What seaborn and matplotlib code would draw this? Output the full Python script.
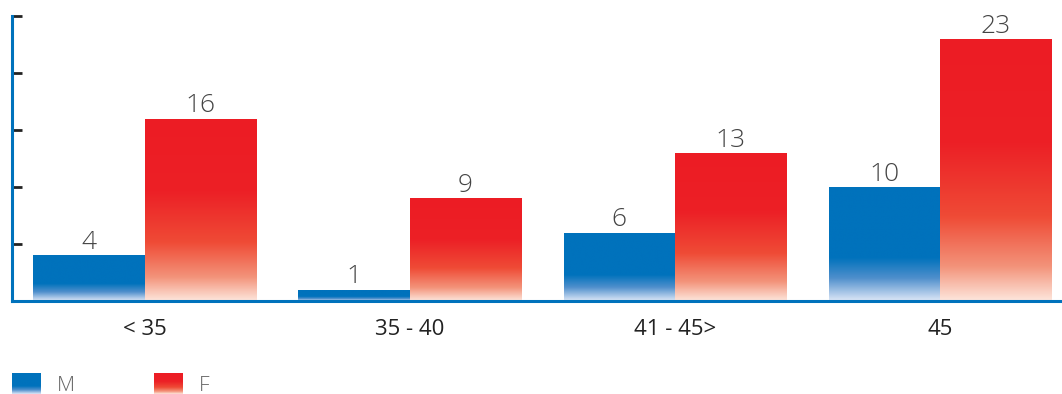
import numpy as np
import pandas as pd
import matplotlib
matplotlib.use("Agg")
import matplotlib.pyplot as plt
from matplotlib.colors import LinearSegmentedColormap
import seaborn as sns

categories = ["< 35", "35 - 40", "41 - 45>", "45"]
male = [4, 1, 6, 10]
female = [16, 9, 13, 23]
series = ["M", "F"]

df = pd.DataFrame({
    "cat": categories * 2,
    "val": male + female,
    "sex": ["M"] * len(categories) + ["F"] * len(categories),
})

sns.set_theme(style="white")
plt.rcParams["font.family"] = ["Open Sans", "DejaVu Sans"]

BLUE = "#0072BC"
RED = "#ED1C24"
blue_cmap = LinearSegmentedColormap.from_list(
    "b", [(0, BLUE), (0.62, BLUE), (0.8, "#4f8fcc"), (1.0, "#dde7f7")])
red_cmap = LinearSegmentedColormap.from_list(
    "r", [(0, RED), (0.4, "#EC2026"), (0.68, "#EF4B36"), (0.87, "#F3937A"), (1.0, "#FDE6DC")])

fig = plt.figure(figsize=(10.62, 3.94), dpi=100)
ax = fig.add_axes([12 / 1062, 1 - 301 / 394, 1 - 12 / 1062, (301 - 16) / 394])

sns.barplot(data=df, x="cat", y="val", hue="sex", order=categories,
            hue_order=series, palette=[BLUE, RED], width=0.84, ax=ax,
            legend=False, saturation=1)

grad = np.linspace(0, 1, 256).reshape(-1, 1)
patches = [p for p in ax.patches if p.get_height() > 0]
for p in patches:
    x0 = p.get_x(); w = p.get_width(); h = p.get_height(); y0 = p.get_y()
    fc = p.get_facecolor()
    is_blue = fc[2] > fc[0]
    cmap = blue_cmap if is_blue else red_cmap
    im = ax.imshow(grad, cmap=cmap, aspect="auto", extent=(x0, x0 + w, y0, y0 + h),
                   origin="upper", zorder=2, interpolation="bilinear")
    im.set_clip_path(p)
    p.set_facecolor("none")
    p.set_edgecolor("none")
    ax.text(x0 + w / 2, y0 + h + 0.55, f"{int(round(h))}", ha="center", va="baseline",
            fontsize=19, fontweight="light", color="#444444", zorder=3)

ax.set_xlim(-0.5, 3.46)
ax.set_ylim(0, 25)
ax.set_yticks([0, 5, 10, 15, 20, 25])
ax.set_yticklabels([])
ax.set_xlabel("")
ax.set_ylabel("")
ax.tick_params(axis="y", direction="in", length=7, width=2, color="#222222", left=True)
ax.tick_params(axis="x", length=0, pad=13, labelsize=16, labelcolor="#222222")
for s in ["top", "right"]:
    ax.spines[s].set_visible(False)
for s in ["left", "bottom"]:
    ax.spines[s].set_color(BLUE)
    ax.spines[s].set_linewidth(2.2)
ax.grid(False)

# legend with gradient swatches
W, H = 1062, 394
for (lx, tx, cmap, name) in [(12, 57, blue_cmap, "M"), (154, 199, red_cmap, "F")]:
    lax = fig.add_axes([lx / W, 0, 29 / W, 21 / H])
    lax.imshow(grad, cmap=cmap, aspect="auto", origin="upper", interpolation="bilinear")
    lax.set_axis_off()
    fig.text(tx / W, 3 / H, name, ha="left", va="baseline", fontsize=15,
             fontweight="light", color="#666666")

fig.savefig("out.png", dpi=100)
